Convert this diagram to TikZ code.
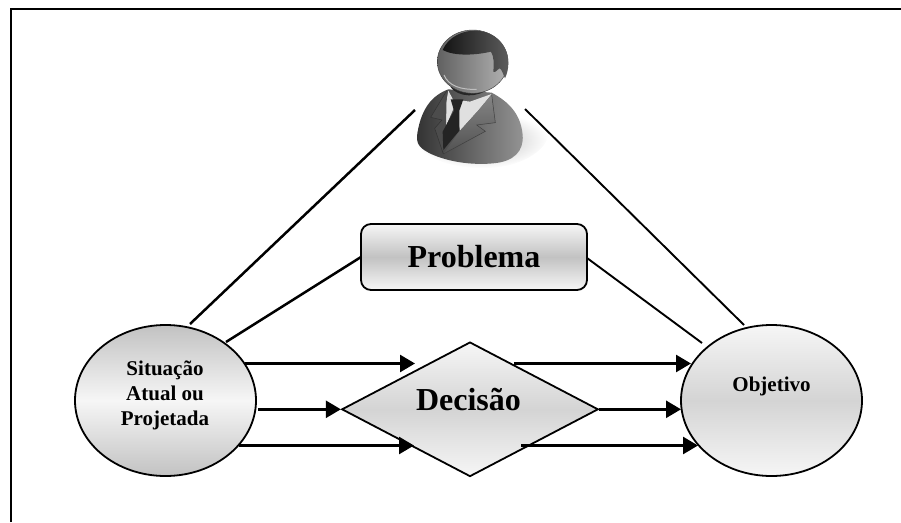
\documentclass[tikz,border=0pt]{standalone}
\usepackage{fontspec}
\setmainfont{Liberation Serif}
\usetikzlibrary{arrows.meta,shapes.geometric}
\definecolor{ga}{HTML}{F6F6F6}
\definecolor{gb}{HTML}{D4D4D4}
\definecolor{gc}{HTML}{C2C2C2}
\tikzset{
  x=1pt,y=-1pt,
  outline/.style={draw=black,line width=1.8pt},
  edgeline/.style={draw=black,line width=2.5pt},
  thinedge/.style={draw=black,line width=1.9pt},
  flow/.style={draw=black,line width=2.6pt,-{Triangle[length=15pt,width=17pt,sep=0pt]}},
  oval/.style={ellipse,outline,minimum width=181pt,minimum height=151pt,inner sep=0pt},
  darkends/.style={top color=gc,bottom color=gc,middle color=ga},
  lightends/.style={top color=ga,bottom color=ga,middle color=gb},
  labelbig/.style={font=\fontsize{32}{36}\selectfont\bfseries,inner sep=0pt},
  labelsmall/.style={font=\fontsize{21}{25}\selectfont\bfseries,inner sep=0pt,align=center},
}
\begin{document}
\begin{tikzpicture}
\useasboundingbox (0,0) rectangle (901,522);
% frame (runs off the page on the right and at the bottom)
\draw[black,line width=2.4pt] (11,522) -- (11,9) -- (901,9);

% person
\begin{scope}[shift={(380,0)},x=0.3333pt,y=-0.3333pt]
  \shade[inner color=white!72!black,outer color=white]
    (105,410) .. controls (110,470) and (210,505) .. (310,505)
    .. controls (420,505) and (505,450) .. (505,400)
    .. controls (480,370) and (440,350) .. (425,335) -- cycle;
  \shade[left color=white!20!black,right color=white!58!black]
    (205,268) .. controls (160,285) and (125,320) .. (112,400)
    .. controls (108,430) and (115,445) .. (160,465)
    .. controls (220,490) and (290,495) .. (340,490)
    .. controls (400,485) and (432,455) .. (428,405)
    .. controls (422,340) and (385,305) .. (335,278) -- cycle;
  % shirt
  \fill[white!88!black] (205,272) -- (192,345) -- (196,382) -- (232,300) -- (270,305) -- (335,282)
    -- (296,330) -- (240,392) -- (225,310) -- cycle;
  % lapels
  \fill[white!30!black]
    (200,272) -- (152,352) -- (186,360) -- (164,385) -- (190,462) -- (198,382) -- cycle;
  \shade[top color=white!52!black,bottom color=white!32!black]
    (335,284) -- (346,368) -- (290,375) -- (316,394) -- (190,462) -- (240,392) -- (296,330) -- cycle;
  \draw[white!25!black,line width=0.5pt] (335,284) -- (346,368) -- (290,375) -- (316,394) -- (190,462);
  \draw[white!20!black,line width=0.5pt] (200,272) -- (152,352) -- (186,360) -- (164,385) -- (190,462);
  % tie
  \fill[white!14!black] (212,298) -- (250,298) -- (238,332) -- (238,392) -- (190,450) -- (188,395) -- (222,332) -- cycle;
  % neck shadow and head
  \fill[white!15!black] (212,262) .. controls (235,292) and (295,296) .. (330,262) -- (300,240) -- cycle;
  \shade[left color=white!38!black,right color=white!70!black]
    (278,185) ellipse [x radius=106,y radius=95];
  \draw[white!22!black,line width=0.4pt] (278,185) ellipse [x radius=106,y radius=95];
  \draw[white!75!black,line width=1pt] (192,225) .. controls (205,258) and (245,270) .. (290,268);
  % hair
  \shade[left color=white!8!black,right color=white!36!black]
    (188,150) .. controls (205,110) and (250,90) .. (290,92)
    .. controls (345,95) and (385,135) .. (385,190)
    .. controls (385,205) and (382,220) .. (375,235)
    .. controls (370,225) and (365,205) .. (358,205)
    .. controls (352,208) and (346,220) .. (340,215)
    .. controls (342,190) and (342,170) .. (333,155)
    .. controls (290,165) and (225,170) .. (188,150) -- cycle;
\end{scope}
\coordinate (personL) at (415,110);
\coordinate (personR) at (525,109);

% nodes
\node[oval,darkends] (sit) at (165.5,400.5) {};
\node[oval,lightends] (obj) at (771.5,400.5) {};
\node[diamond,outline,top color=ga,bottom color=ga,middle color=gb,minimum width=256.5pt,minimum height=134.5pt,inner sep=0pt,aspect=1.907] (dec) at (470,409.3) {};
\node[rectangle,rounded corners=10pt,outline,top color=ga,bottom color=ga,middle color=gc,minimum width=226pt,minimum height=66pt] (prob) at (474,257) {};

% labels
\node[labelbig] (tprob) at (474,257) {Problema};
\node[labelbig] (tdec) at (468.5,400) {Decisão};
\node[labelsmall,anchor=base] (t1) at (165,375) {Situação};
\node[labelsmall,anchor=base] (t2) at (165,400) {Atual ou};
\node[labelsmall,anchor=base] (t3) at (165,425) {Projetada};
\node[labelsmall,anchor=base] (t4) at (771.5,391) {Objetivo};

% plain connectors
\coordinate (sitA) at (190,324);
\coordinate (sitB) at (226,342);
\coordinate (objA) at (744,325);
\coordinate (objB) at (702,343);
\coordinate (probL) at (361,257);
\coordinate (probR) at (587,258);
\draw[edgeline] (sitA) -- (personL);
\draw[edgeline] (sitB) -- (probL);
\draw[thinedge] (personR) -- (objA);
\draw[thinedge] (probR) -- (objB);

% arrows
\coordinate (a1) at (245,363.5); \coordinate (a1e) at (415,363.5);
\coordinate (a2) at (258,409.3); \coordinate (a2e) at (dec.west);
\coordinate (a3) at (239,445.5); \coordinate (a3e) at (414,445.5);
\coordinate (b1) at (514,363.5); \coordinate (b1e) at (691,363.5);
\coordinate (b2) at (dec.east);  \coordinate (b2e) at (681,409.3);
\coordinate (b3) at (521,445.5); \coordinate (b3e) at (698,445.5);
\draw[flow] (a1) -- (a1e);
\draw[flow] (a2) -- (a2e);
\draw[flow] (a3) -- (a3e);
\draw[flow] (b1) -- (b1e);
\draw[flow] (b2) -- (b2e);
\draw[flow] (b3) -- (b3e);
\end{tikzpicture}
\end{document}
